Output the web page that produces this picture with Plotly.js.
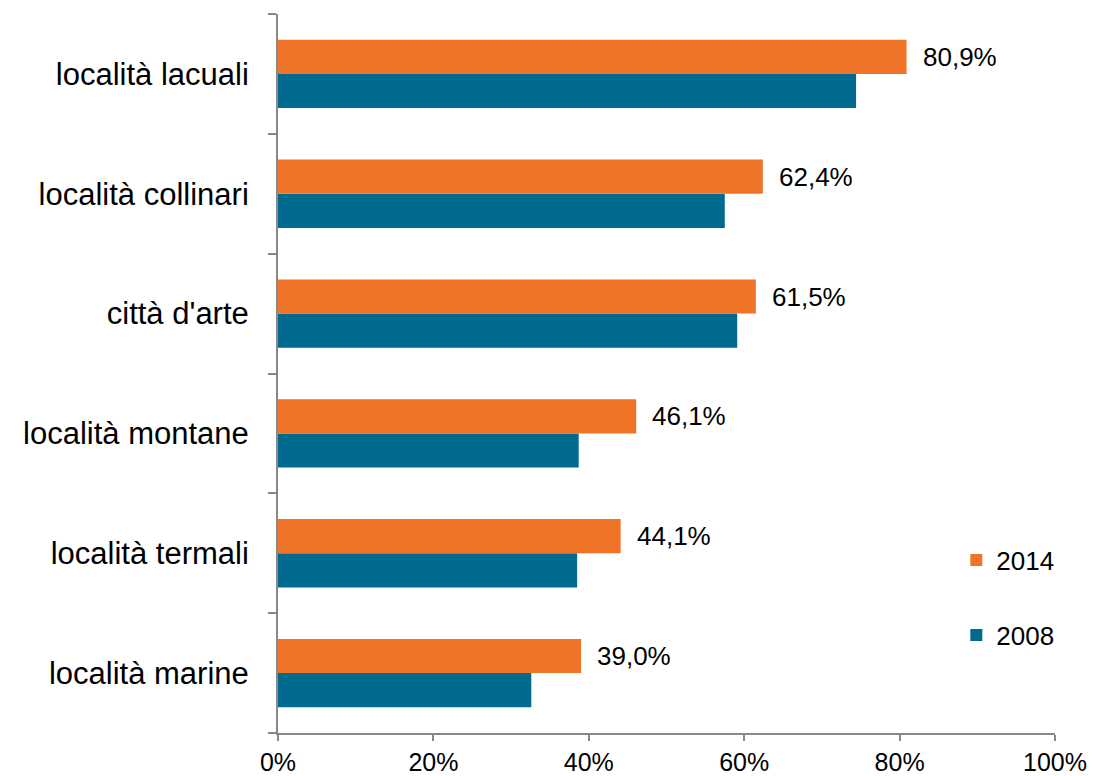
<!DOCTYPE html>
<html>
<head>
<meta charset="utf-8">
<script src="https://cdn.plot.ly/plotly-3.0.1.min.js"></script>
<style>html,body{margin:0;padding:0;background:#fff;}#chart{width:1093px;height:776px;}</style>
</head>
<body>
<div id="chart"></div>
<script>
// Categories from bottom to top
const categories = ["località marine", "località termali", "località montane", "città d'arte", "località collinari", "località lacuali"];
const values2014 = [39.0, 44.1, 46.1, 61.5, 62.4, 80.9];
const values2008 = [32.6, 38.5, 38.7, 59.1, 57.5, 74.4];
const labels2014 = ["39,0%", "44,1%", "46,1%", "61,5%", "62,4%", "80,9%"];
const xTickVals = [0, 0.2, 0.4, 0.6, 0.8, 1.0];
const xTickText = ["0%", "20%", "40%", "60%", "80%", "100%"];

const pos = categories.map((c, i) => i);
const bargap = 0.43;
const half = (1 - bargap) / 4; // center offset of each bar in the group

const trace2008 = {
  type: 'bar', orientation: 'h', name: '2008',
  x: values2008.map(v => v / 100), y: pos,
  marker: {color: '#006A8F'},
  legendgroup: 'g2', legendrank: 2, hoverinfo: 'skip'
};
const trace2014 = {
  type: 'bar', orientation: 'h', name: '2014',
  x: values2014.map(v => v / 100), y: pos,
  marker: {color: '#F07428'},
  legendgroup: 'g1', legendrank: 1, hoverinfo: 'skip'
};

const annotations = values2014.map((v, i) => ({
  x: v / 100, y: pos[i] + half, xref: 'x', yref: 'y',
  text: labels2014[i], showarrow: false, xanchor: 'left', yanchor: 'middle',
  xshift: 14, font: {family: 'Liberation Sans, Arial, sans-serif', size: 26, color: '#000'}
}));

const minorVals = [];
for (let i = 0; i <= categories.length; i++) minorVals.push(i - 0.5);

const layout = {
  width: 1093, height: 776,
  margin: {l: 278, r: 38, t: 14, b: 43, pad: 0},
  paper_bgcolor: '#fff', plot_bgcolor: '#fff',
  barmode: 'group', bargap: bargap, bargroupgap: 0,
  font: {family: 'Liberation Sans, Arial, sans-serif', color: '#000', size: 25},
  showlegend: true,
  legend: {
    x: 0.873, y: 0.273, xanchor: 'left', yanchor: 'top',
    traceorder: 'grouped', tracegroupgap: 38,
    font: {size: 26, color: '#000'}, bgcolor: 'rgba(0,0,0,0)'
  },
  xaxis: {
    range: [0, 1], tickvals: xTickVals, ticktext: xTickText,
    showgrid: false, zeroline: false,
    showline: true, linecolor: '#888', linewidth: 2,
    ticks: 'outside', ticklen: 6, tickwidth: 2, tickcolor: '#888',
    tickfont: {size: 25}, fixedrange: true
  },
  yaxis: {
    range: [-0.5, categories.length - 0.5],
    tickvals: pos, ticktext: categories,
    showgrid: false, zeroline: false,
    showline: true, linecolor: '#888', linewidth: 2,
    ticks: '', ticklabelstandoff: 21,
    tickfont: {size: 31},
    minor: {tickvals: minorVals, ticks: 'outside', ticklen: 8, tickwidth: 2, tickcolor: '#888', showgrid: false},
    fixedrange: true
  },
  annotations: annotations
};

Plotly.newPlot('chart', [trace2008, trace2014], layout, {displayModeBar: false, staticPlot: true});
</script>
</body>
</html>
